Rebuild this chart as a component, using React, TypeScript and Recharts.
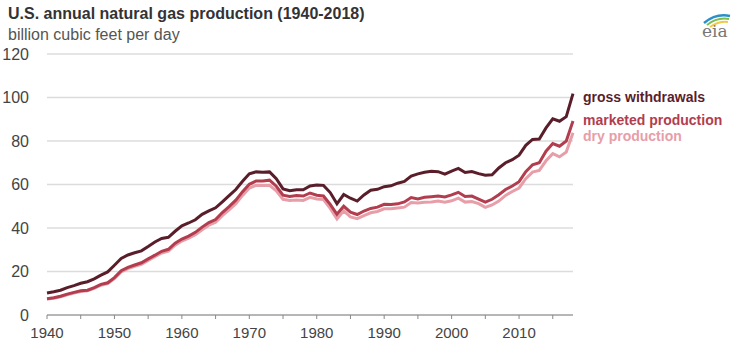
import { LineChart, Line, XAxis, YAxis, CartesianGrid } from "recharts";

const years = [
  1940, 1941, 1942, 1943, 1944, 1945, 1946, 1947, 1948, 1949,
  1950, 1951, 1952, 1953, 1954, 1955, 1956, 1957, 1958, 1959,
  1960, 1961, 1962, 1963, 1964, 1965, 1966, 1967, 1968, 1969,
  1970, 1971, 1972, 1973, 1974, 1975, 1976, 1977, 1978, 1979,
  1980, 1981, 1982, 1983, 1984, 1985, 1986, 1987, 1988, 1989,
  1990, 1991, 1992, 1993, 1994, 1995, 1996, 1997, 1998, 1999,
  2000, 2001, 2002, 2003, 2004, 2005, 2006, 2007, 2008, 2009,
  2010, 2011, 2012, 2013, 2014, 2015, 2016, 2017, 2018,
];

// billion cubic feet per day
const grossWithdrawals = [
  10.1, 10.7, 11.4, 12.6, 13.5, 14.6, 15.3, 16.6, 18.3, 19.8,
  22.9, 26.0, 27.6, 28.6, 29.5, 31.5, 33.6, 35.2, 35.7, 38.5,
  41.0, 42.3, 43.8, 46.3, 47.9, 49.3, 52.0, 54.9, 57.7, 61.5,
  64.9, 65.8, 65.6, 65.8, 62.7, 58.0, 57.1, 57.6, 57.6, 59.3,
  59.8, 59.6, 56.3, 51.1, 55.4, 53.7, 52.4, 55.2, 57.4, 57.8,
  59.0, 59.4, 60.6, 61.4, 63.9, 64.9, 65.6, 66.1, 65.9, 64.8,
  66.2, 67.4, 65.5, 66.0, 65.0, 64.3, 64.5, 67.6, 70.0, 71.4,
  73.5, 78.0, 80.7, 80.9, 86.0, 90.2, 89.1, 91.2, 101.8,
];

const marketedProduction = [
  7.5, 7.9, 8.6, 9.6, 10.4, 11.1, 11.4, 12.6, 14.1, 14.8,
  17.2, 20.4, 21.9, 23.0, 24.0, 25.8, 27.5, 29.3, 30.2, 33.0,
  34.9, 36.3, 38.0, 40.4, 42.5, 43.9, 47.1, 49.8, 52.8, 56.7,
  60.1, 61.6, 61.6, 62.0, 59.2, 55.1, 54.5, 54.9, 54.7, 56.1,
  55.1, 54.7, 50.9, 46.3, 50.0, 47.3, 46.2, 47.8, 49.0, 49.6,
  50.9, 50.8, 51.1, 52.0, 54.0, 53.4, 54.1, 54.4, 54.7, 54.3,
  55.2, 56.4, 54.5, 54.7, 53.3, 51.9, 53.2, 55.3, 57.7, 59.3,
  61.3, 65.9, 69.1, 70.0, 75.3, 78.8, 77.6, 80.0, 89.2,
];

const dryProduction = [
  7.3, 7.7, 8.4, 9.3, 10.1, 10.8, 11.1, 12.3, 13.7, 14.4,
  16.7, 19.8, 21.3, 22.4, 23.3, 25.1, 26.8, 28.5, 29.4, 32.1,
  34.0, 35.3, 36.9, 39.2, 41.3, 42.6, 45.7, 48.3, 51.2, 55.0,
  58.4, 59.6, 59.5, 59.6, 57.1, 53.2, 52.6, 52.9, 52.7, 54.1,
  53.3, 53.1, 49.0, 44.2, 47.9, 45.1, 44.3, 45.7, 47.0, 47.6,
  48.8, 48.8, 49.2, 49.6, 51.7, 51.5, 51.8, 52.0, 52.4, 51.9,
  52.5, 53.7, 51.9, 52.2, 51.2, 49.5, 50.6, 52.4, 55.0, 56.8,
  58.4, 62.7, 65.7, 66.5, 70.9, 74.2, 72.7, 74.9, 83.8,
];

const yTicks = [0, 20, 40, 60, 80, 100, 120];
const xTicks = [1940, 1945, 1950, 1955, 1960, 1965, 1970, 1975, 1980, 1985, 1990, 1995, 2000, 2005, 2010, 2015];

const data = years.map((year, i) => ({
  year,
  gross: grossWithdrawals[i],
  marketed: marketedProduction[i],
  dry: dryProduction[i],
}));

const GROSS = "#5a1e2b";
const MARKETED = "#b23d4e";
const DRY = "#e79ea8";
const font = "'Liberation Sans', Arial, sans-serif";

function EiaLogo() {
  return (
    <svg width={36} height={30} style={{ position: "absolute", left: 698, top: 10 }}>
      <path d="M6 13 Q18 3 32 6" stroke="#2b8fc9" strokeWidth={2.5} fill="none" />
      <path d="M9 15 Q19 7 31 9" stroke="#7cbf4a" strokeWidth={2} fill="none" />
      <path d="M12 17 Q21 11 30 12" stroke="#f2c84b" strokeWidth={2} fill="none" />
      <text x={4} y={27} fontFamily="'DejaVu Serif', serif" fontSize={17} fill="#777">
        eia
      </text>
    </svg>
  );
}

export default function App() {
  return (
    <div style={{ position: "absolute", left: 0, top: 0, width: 738, height: 352, background: "#fff", fontFamily: font }}>
      <div style={{ position: "absolute", left: 8, top: 5, fontSize: 16, fontWeight: "bold", color: "#333", whiteSpace: "nowrap" }}>
        U.S. annual natural gas production (1940-2018)
      </div>
      <div style={{ position: "absolute", left: 8, top: 26, fontSize: 16, color: "#555", whiteSpace: "nowrap" }}>
        billion cubic feet per day
      </div>
      <EiaLogo />

      <LineChart width={738} height={352} data={data} margin={{ top: 54, right: 165, bottom: 7, left: 0 }}>
        <CartesianGrid horizontal vertical={false} stroke="#dcdcdc" strokeWidth={1.5} />
        <XAxis
          dataKey="year"
          type="number"
          domain={[1940, 2018]}
          ticks={xTicks}
          interval={0}
          tickFormatter={(v: number) => (v % 10 === 0 ? String(v) : "")}
          height={30}
          tickSize={4}
          tickMargin={8}
          stroke="#888"
          tick={{ fill: "#444", fontSize: 15, fontFamily: font }}
        />
        <YAxis
          domain={[0, 120]}
          ticks={yTicks}
          width={47}
          axisLine={false}
          tickLine={false}
          tickMargin={12}
          tick={{ fill: "#444", fontSize: 16, fontFamily: font }}
        />
        <Line type="linear" dataKey="dry" stroke={DRY} strokeWidth={3} dot={false} isAnimationActive={false} />
        <Line type="linear" dataKey="marketed" stroke={MARKETED} strokeWidth={3} dot={false} isAnimationActive={false} />
        <Line type="linear" dataKey="gross" stroke={GROSS} strokeWidth={3} dot={false} isAnimationActive={false} />
      </LineChart>

      <div style={{ position: "absolute", left: 583, top: 89, fontSize: 14, fontWeight: "bold", color: GROSS, whiteSpace: "nowrap" }}>
        gross withdrawals
      </div>
      <div style={{ position: "absolute", left: 583, top: 112, fontSize: 14, fontWeight: "bold", color: MARKETED, whiteSpace: "nowrap" }}>
        marketed production
      </div>
      <div style={{ position: "absolute", left: 583, top: 128, fontSize: 14, fontWeight: "bold", color: DRY, whiteSpace: "nowrap" }}>
        dry production
      </div>
    </div>
  );
}
